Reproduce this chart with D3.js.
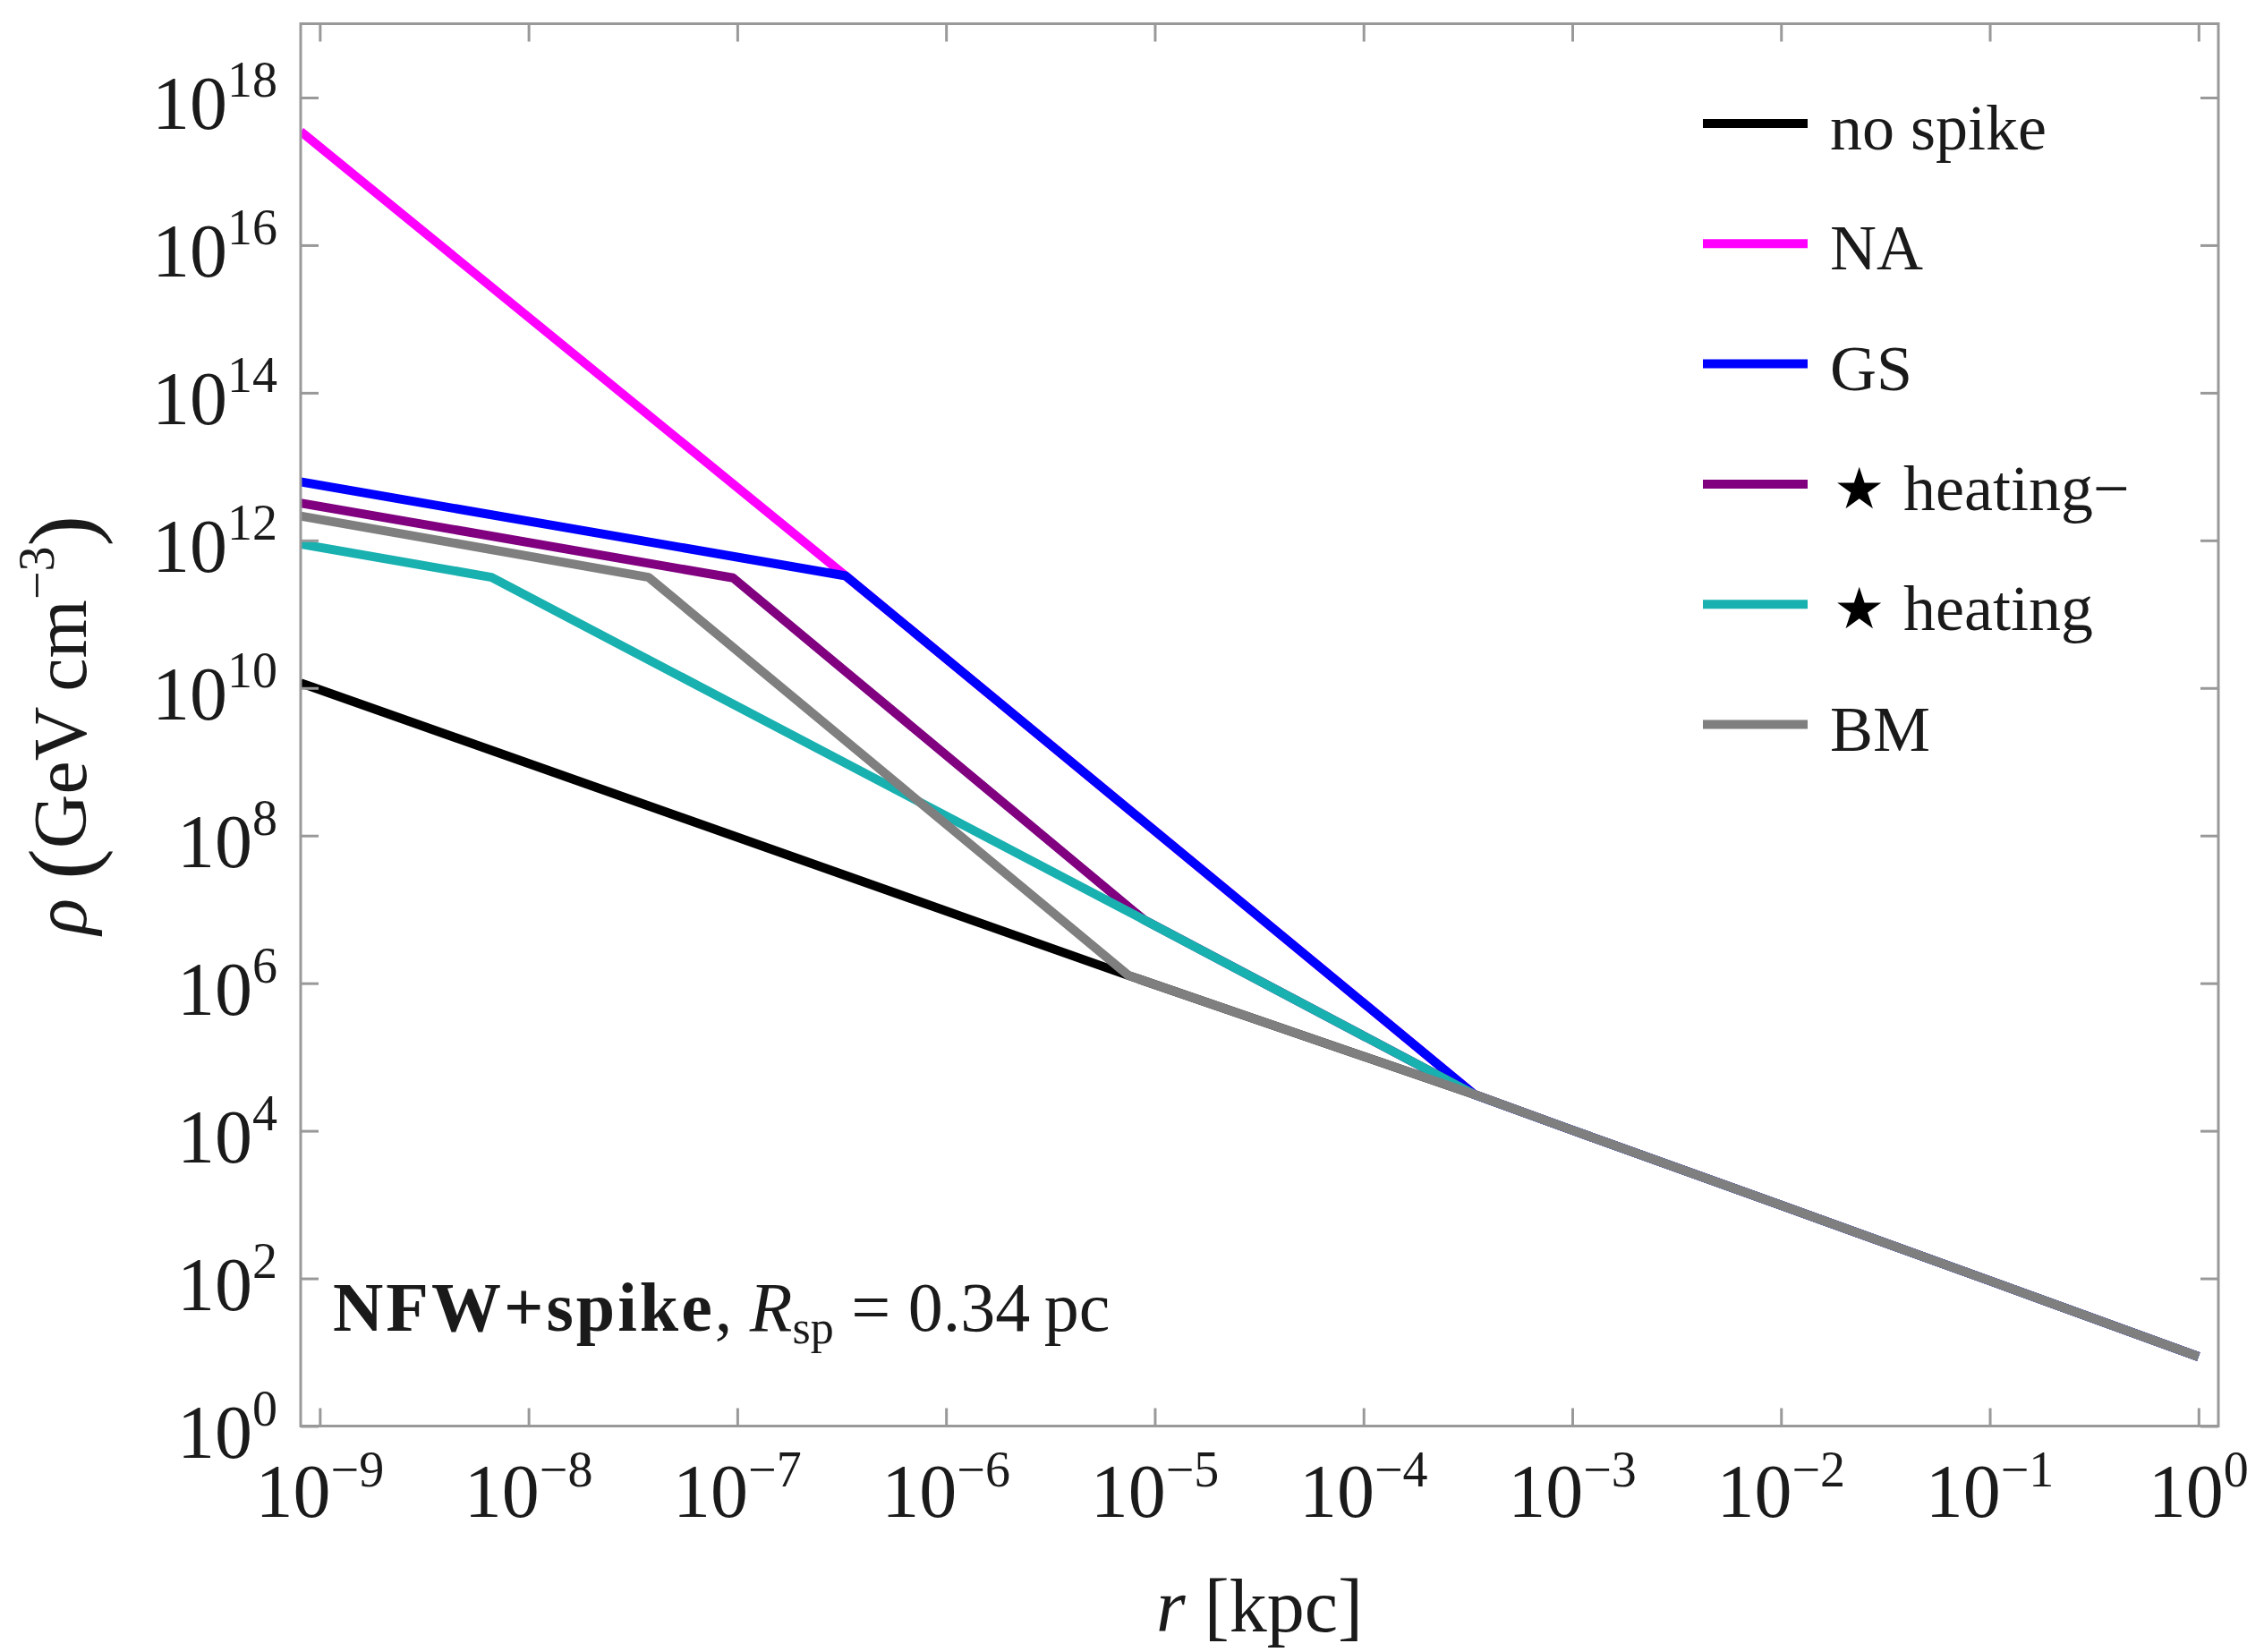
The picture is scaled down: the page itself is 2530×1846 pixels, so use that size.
<!DOCTYPE html>
<html>
<head>
<meta charset="utf-8">
<script src="https://cdn.jsdelivr.net/npm/d3@7"></script>
<style>
  body { margin: 0; background: #fff; }
  text { font-family: "Liberation Serif", "Times New Roman", serif; fill: #1a1a1a; }
</style>
</head>
<body>
<svg id="chart"></svg>
<script>
const width = 2530, height = 1846;
const margins = { top: 26.5, right: 51, bottom: 252.5, left: 336 };

// r in kpc, rho in GeV cm^-3
const nfwTail = [[3.4e-4, 3.1e4], [1e-3, 1.02e4], [1e-2, 980], [0.1, 93], [1, 8.7]];
const noSpike = [[8.1e-10, 1.17e10], [7.5e-6, 1.27e6]];
const spikeNA = [[8.1e-10, 3.47e17], [3.31e-7, 3.3e11]];
const spikeGS = [[8.1e-10, 6.2e12], [3.31e-7, 3.3e11]];
const heatingMinus = [[8.1e-10, 3.2e12], [9.55e-8, 3.1e11], [8.9e-6, 7.2e6]];
const heating = [[8.1e-10, 8.9e11], [6.65e-9, 3.16e11], [8.9e-6, 7.2e6]];
const spikeBM = [[8.1e-10, 2.14e12], [3.76e-8, 3.16e11], [7.5e-6, 1.27e6]];

const seriesNames = ["no spike", "NA", "GS", "heating\u2212", "heating", "BM"];
const seriesStar = [false, false, false, true, true, false];
const seriesColors = ["#000000", "#ff00ff", "#0000ff", "#800080", "#19b0b0", "#7f7f7f"];
const seriesData = [noSpike, spikeNA, spikeGS, heatingMinus, heating, spikeBM];

const xTicks = [1e-9, 1e-8, 1e-7, 1e-6, 1e-5, 1e-4, 1e-3, 1e-2, 1e-1, 1];
const yTicks = [1, 1e2, 1e4, 1e6, 1e8, 1e10, 1e12, 1e14, 1e16, 1e18];

const svg = d3.select("#chart").attr("width", width).attr("height", height);

const x = d3.scaleLog()
  .domain([8.1e-10, 1.245])
  .range([margins.left, width - margins.right]);
const y = d3.scaleLog()
  .domain([1, 1e19])
  .range([height - margins.bottom, margins.top]);

svg.append("defs").append("clipPath").attr("id", "plot-clip")
  .append("rect")
  .attr("x", margins.left).attr("y", margins.top)
  .attr("width", width - margins.left - margins.right)
  .attr("height", height - margins.top - margins.bottom);

// lines
const line = d3.line().x(d => x(d[0])).y(d => y(d[1]));
svg.append("g").attr("clip-path", "url(#plot-clip)")
  .selectAll("path")
  .data(seriesData.map((d, i) => ({ pts: d.concat(nfwTail), color: seriesColors[i] })))
  .join("path")
  .attr("d", d => line(d.pts))
  .attr("fill", "none")
  .attr("stroke", d => d.color)
  .attr("stroke-width", 10)
  .attr("stroke-linejoin", "round");

// frame + inward ticks on all four sides
const tickLen = 20;
function styleAxis(g) {
  g.select(".domain").remove();
  g.selectAll(".tick line").attr("stroke", "#999").attr("stroke-width", 3);
}
svg.append("g").attr("transform", `translate(0,${height - margins.bottom})`)
  .call(d3.axisBottom(x).tickValues(xTicks).tickSize(-tickLen).tickFormat(""))
  .call(styleAxis);
svg.append("g").attr("transform", `translate(0,${margins.top})`)
  .call(d3.axisTop(x).tickValues(xTicks).tickSize(-tickLen).tickFormat(""))
  .call(styleAxis);
svg.append("g").attr("transform", `translate(${margins.left},0)`)
  .call(d3.axisLeft(y).tickValues(yTicks).tickSize(-tickLen).tickFormat(""))
  .call(styleAxis);
svg.append("g").attr("transform", `translate(${width - margins.right},0)`)
  .call(d3.axisRight(y).tickValues(yTicks).tickSize(-tickLen).tickFormat(""))
  .call(styleAxis);

svg.append("rect")
  .attr("x", margins.left).attr("y", margins.top)
  .attr("width", width - margins.left - margins.right)
  .attr("height", height - margins.top - margins.bottom)
  .attr("fill", "none").attr("stroke", "#999").attr("stroke-width", 3);

// tick labels 10^n
const expText = d => {
  const e = Math.round(Math.log10(d));
  return e < 0 ? "\u2212" + (-e) : String(e);
};

const xLab = svg.append("g").selectAll("text").data(xTicks).join("text")
  .attr("x", d => x(d)).attr("y", height - margins.bottom + 101)
  .attr("text-anchor", "middle").style("font-size", "84px");
xLab.append("tspan").text("10");
xLab.append("tspan").attr("dy", -34).style("font-size", "56px").text(expText);

const yLab = svg.append("g").selectAll("text").data(yTicks).join("text")
  .attr("x", margins.left - 26).attr("y", d => y(d) + 35)
  .attr("text-anchor", "end").style("font-size", "84px");
yLab.append("tspan").text("10");
yLab.append("tspan").attr("dy", -36).style("font-size", "56px").text(expText);

// axis titles
const xTitle = svg.append("text")
  .attr("x", (margins.left + width - margins.right) / 2).attr("y", 1823)
  .attr("text-anchor", "middle").style("font-size", "84px");
xTitle.append("tspan").style("font-style", "italic").text("r");
xTitle.append("tspan").text(" [kpc]");

const yTitle = svg.append("text")
  .attr("transform", `translate(96,${(margins.top + height - margins.bottom) / 2}) rotate(-90)`)
  .attr("text-anchor", "middle").style("font-size", "84px");
yTitle.append("tspan").style("font-style", "italic").text("\u03c1 ");
yTitle.append("tspan").style("font-size", "104px").attr("dy", 8).text("(");
yTitle.append("tspan").attr("dy", -8).text("GeV\u2009cm");
yTitle.append("tspan").attr("dy", -36).style("font-size", "56px").text("\u22123");
yTitle.append("tspan").attr("dy", 44).style("font-size", "104px").text(")");

// legend
const legend = svg.append("g").attr("transform", "translate(1903,138)");
const rows = legend.selectAll("g").data(seriesNames).join("g")
  .attr("transform", (d, i) => `translate(0,${i * 134.3})`);
rows.append("line")
  .attr("x1", 0).attr("x2", 117)
  .attr("stroke", (d, i) => seriesColors[i]).attr("stroke-width", 10);
const rowText = rows.append("text").attr("y", 29).style("font-size", "72px");
rowText.filter((d, i) => seriesStar[i]).append("tspan")
  .attr("x", 146).attr("y", 27)
  .style("font-family", "DejaVu Sans").style("font-size", "64px").style("fill", "#000")
  .text("\u2605");
rowText.append("tspan")
  .attr("x", (d, i) => seriesStar[i] ? 224 : 142).attr("y", 29)
  .text(d => d);

// annotation
const note = svg.append("text").attr("x", 372).attr("y", 1487).style("font-size", "78px");
note.append("tspan").style("font-weight", "bold").style("letter-spacing", "3px").text("NFW+spike");
note.append("tspan").text(", ");
note.append("tspan").style("font-style", "italic").text("R");
note.append("tspan").attr("dy", 14).style("font-size", "52px").text("sp");
note.append("tspan").attr("dy", -14).text(" = 0.34\u2009pc");
</script>
</body>
</html>
